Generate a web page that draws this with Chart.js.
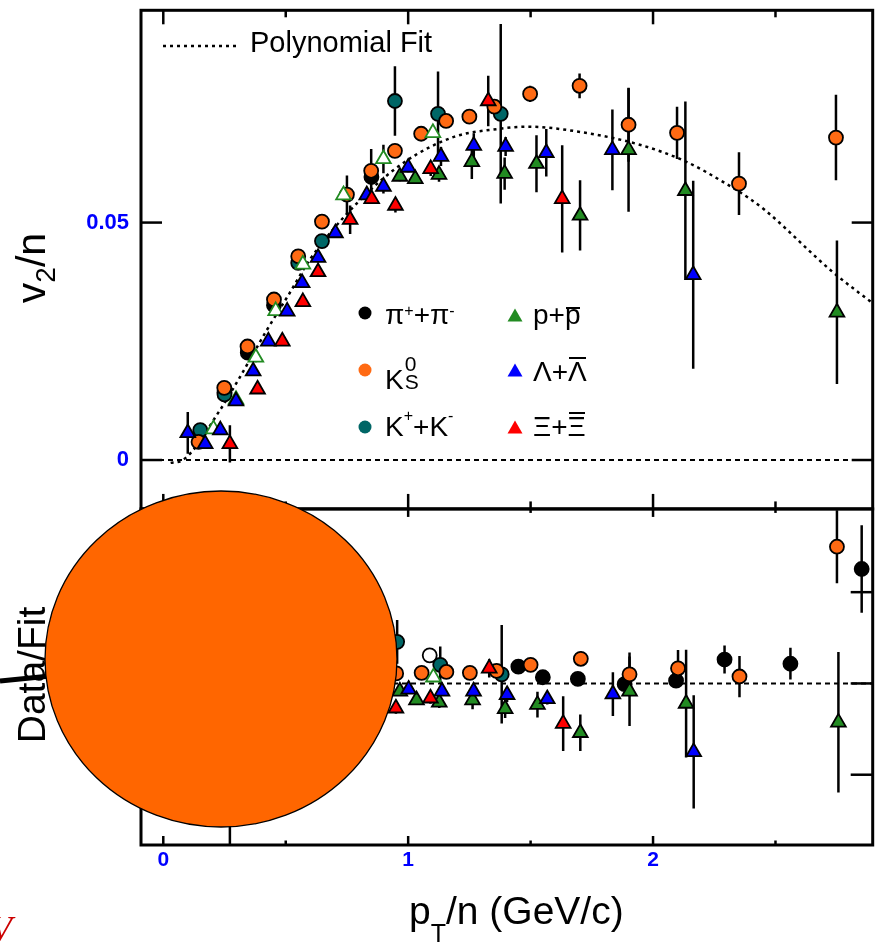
<!DOCTYPE html>
<html lang="en">
<head>
<meta charset="utf-8">
<title>v2/n vs pT/n with polynomial fit</title>
<script src="https://cdn.jsdelivr.net/npm/chart.js@4.4.1/dist/chart.umd.min.js"></script>
<style>
  html, body { margin: 0; padding: 0; background: #fff; }
  #wrap { position: relative; width: 883px; height: 942px; overflow: hidden;
          font-family: "Liberation Sans", Arial, sans-serif; color: #000; }
  #plot, #overlay { position: absolute; left: 0; top: 0; }
  .lbl { position: absolute; white-space: nowrap; line-height: 1; }
  .leg { font-size: 28px; }
  .rot { transform: translate(-50%, -50%) rotate(-90deg); }
  .sup { font-size: 16px; position: relative; }
  .ov { position: relative; }
  .ov::after { content: ""; position: absolute; left: 1px; right: 1px; border-top: 2px solid #000; }
  .ov.low::after { top: 8px; }
  .ov.high::after { top: 1px; }
  .ks { position: relative; display: inline-block; width: 14px; height: 1px; }
  .ks span { position: absolute; left: 1px; font-size: 21px; line-height: 1; }
</style>
</head>
<body>
<div id="wrap">
  <canvas id="plot" width="883" height="942"></canvas>

  <svg id="overlay" width="883" height="942">
    <!-- legend samples -->
    <line x1="163" y1="46" x2="237" y2="46" stroke="#000" stroke-width="2.5" stroke-dasharray="3 4"/>
    <circle cx="365" cy="313" r="6.5" fill="#000"/>
    <circle cx="365" cy="370" r="6.5" fill="#FF6A13"/>
    <circle cx="365" cy="427" r="6.5" fill="#006666"/>
    <polygon points="507.5,321.5 522.5,321.5 515,308.5" fill="#228B22"/>
    <polygon points="507.5,376.5 522.5,376.5 515,363.5" fill="#0000FF"/>
    <polygon points="507.5,433.5 522.5,433.5 515,420.5" fill="#FF0000"/>
    <!-- overlay marks on top of the figure -->
    <line x1="0" y1="681" x2="80" y2="673" stroke="#000" stroke-width="5"/>
    <ellipse cx="221" cy="659" rx="176" ry="168" fill="#FF6600" stroke="#000" stroke-width="1.3"/>
  </svg>

  <div class="lbl" style="left:250px;top:28px;font-size:29px">Polynomial Fit</div>

  <div class="lbl leg" style="left:385px;top:301px">π<span class="sup" style="top:-8px">+</span>+π<span class="sup" style="top:-8px">-</span></div>
  <div class="lbl leg" style="left:385px;top:366px">K<span class="ks"><span style="bottom:15px">0</span><span style="bottom:-3px">S</span></span></div>
  <div class="lbl leg" style="left:385px;top:413px">K<span class="sup" style="top:-15px">+</span>+K<span class="sup" style="top:-15px">-</span></div>
  <div class="lbl leg" style="left:533px;top:301px">p+<span class="ov low">p</span></div>
  <div class="lbl leg" style="left:533px;top:358px">Λ+<span class="ov high">Λ</span></div>
  <div class="lbl leg" style="left:533px;top:413px">Ξ+<span class="ov high">Ξ</span></div>

  <div class="lbl rot" style="left:31px;top:268px;font-size:41px">v<span style="font-size:28px;position:relative;top:10px">2</span>/n</div>
  <div class="lbl rot" style="left:31px;top:675px;font-size:39px">Data/Fit</div>
  <div class="lbl" style="left:409px;top:891px;font-size:39px">p<span style="font-size:25px;position:relative;top:18px">T</span>/n (GeV/c)</div>

  <div class="lbl" style="left:-10px;top:911px;font-size:36px;font-family:'Liberation Serif',serif;font-style:italic;color:#CC0000">V</div>
</div>

<script>
  // ---------- axes ----------
  const xRange = [-0.091, 2.897];
  const v2Range = [-0.0103, 0.0947];
  const ratioRange = [0.115, 1.956];
  const xTickValues = [0, 1, 2];
  const xTickLabels = ['0', '1', '2'];
  const xFrameTicks = [0, 0.5, 1, 1.5, 2, 2.5];
  const v2TickValues = [0, 0.05];
  const v2TickLabels = ['0', '0.05'];
  const ratioTickValues = [0.5, 1, 1.5];

  // ---------- upper panel: v2/n ----------
  const piX = [0.25, 0.345, 0.452, 0.85];
  const piY = [0.0142, 0.0226, 0.0326, 0.0596];
  const piE = [0.001, 0.001, 0.001, 0.001];

  const kchX = [0.151, 0.25, 0.551, 0.648, 0.946, 1.122, 1.378];
  const kchY = [0.0063, 0.0138, 0.0415, 0.0461, 0.0756, 0.0729, 0.0729];
  const kchE = [0.001, 0.001, 0.001, 0.0015, 0.0073, 0.0089, 0.0189];

  const k0X = [0.144, 0.249, 0.344, 0.452, 0.551, 0.648, 0.75, 0.849, 0.946, 1.053, 1.155, 1.25, 1.352, 1.498, 1.70, 1.90, 2.098, 2.351, 2.747];
  const k0Y = [0.0038, 0.0152, 0.0239, 0.0338, 0.0429, 0.0502, 0.0559, 0.0609, 0.0651, 0.0687, 0.0714, 0.0723, 0.0744, 0.0771, 0.0788, 0.0706, 0.0689, 0.0582, 0.0679];
  const k0E = [0.001, 0.001, 0.001, 0.001, 0.001, 0.001, 0.004, 0.0046, 0.001, 0.001, 0.001, 0.001, 0.001, 0.0017, 0.0026, 0.0078, 0.0055, 0.0066, 0.009];

  const pOpenX = [0.205, 0.297, 0.378, 0.459, 0.57, 0.736, 0.899, 1.101];
  const pOpenY = [0.0065, 0.0127, 0.0216, 0.0314, 0.0412, 0.0558, 0.0634, 0.0689];
  const pOpenE = [0.001, 0.001, 0.001, 0.001, 0.001, 0.001, 0.003, 0.001];

  const pX = [0.966, 1.029, 1.126, 1.26, 1.394, 1.524, 1.702, 1.90, 2.132, 2.751];
  const pY = [0.0597, 0.0592, 0.0601, 0.0628, 0.0603, 0.0624, 0.0515, 0.0653, 0.0567, 0.0311];
  const pE = [0.001, 0.001, 0.0015, 0.0036, 0.0034, 0.006, 0.0074, 0.013, 0.0188, 0.0151];

  const lamX = [0.1, 0.171, 0.233, 0.297, 0.367, 0.429, 0.506, 0.567, 0.632, 0.703, 0.831, 0.899, 1.0, 1.134, 1.268, 1.398, 1.564, 1.834, 2.164];
  const lamY = [0.0057, 0.0034, 0.0063, 0.0124, 0.0187, 0.025, 0.0313, 0.0373, 0.0426, 0.0478, 0.0558, 0.0576, 0.0616, 0.0639, 0.0662, 0.066, 0.0647, 0.0653, 0.039];
  const lamE = [0.0044, 0.001, 0.001, 0.001, 0.001, 0.001, 0.001, 0.001, 0.001, 0.001, 0.001, 0.0015, 0.001, 0.002, 0.0026, 0.002, 0.005, 0.0085, 0.0198];

  const xiX = [0.272, 0.385, 0.486, 0.57, 0.632, 0.763, 0.851, 0.948, 1.092, 1.327, 1.629];
  const xiY = [0.0034, 0.0149, 0.025, 0.0333, 0.0396, 0.0506, 0.055, 0.0536, 0.0613, 0.0756, 0.055];
  const xiE = [0.0039, 0.001, 0.001, 0.001, 0.001, 0.003, 0.001, 0.0015, 0.0015, 0.0053, 0.0113];

  const fitX = [0.03, 0.08, 0.229, 0.31, 0.42, 0.513, 0.601, 0.797, 0.987, 1.19, 1.365, 1.487, 1.676, 1.945, 2.136, 2.298, 2.39, 2.46, 2.731, 2.897];
  const fitY = [-0.0006, 0.0, 0.0103, 0.0172, 0.0271, 0.0349, 0.0424, 0.0544, 0.0628, 0.0681, 0.0697, 0.0702, 0.0693, 0.0664, 0.0628, 0.0582, 0.0552, 0.0525, 0.0397, 0.033];

  // ---------- lower panel: data / fit ----------
  const piRX = [1.45, 1.55, 1.693, 1.884, 2.094, 2.292, 2.561, 2.852];
  const piRY = [1.092, 1.034, 1.025, 0.996, 1.015, 1.131, 1.108, 1.627];
  const piRE = [0.02, 0.02, 0.02, 0.02, 0.03, 0.077, 0.087, 0.24];

  const piOpenRX = [1.088];
  const piOpenRY = [1.154];
  const piOpenRE = [0.03];

  const kchRX = [0.955, 1.131, 1.382];
  const kchRY = [1.228, 1.102, 1.05];
  const kchRE = [0.12, 0.1, 0.27];

  const k0RX = [0.951, 1.055, 1.156, 1.252, 1.361, 1.5, 1.705, 1.904, 2.102, 2.353, 2.751];
  const k0RY = [1.055, 1.058, 1.063, 1.058, 1.069, 1.102, 1.135, 1.05, 1.083, 1.038, 1.749];
  const k0RE = [0.02, 0.02, 0.02, 0.02, 0.02, 0.03, 0.04, 0.12, 0.1, 0.113, 0.2];

  const pOpenRX = [1.103];
  const pOpenRY = [1.034];
  const pOpenRE = [0.02];

  const pRX = [0.966, 1.034, 1.127, 1.263, 1.396, 1.528, 1.703, 1.904, 2.135, 2.757];
  const pRY = [0.957, 0.909, 0.896, 0.909, 0.861, 0.884, 0.73, 0.957, 0.89, 0.787];
  const pRE = [0.02, 0.02, 0.03, 0.05, 0.05, 0.07, 0.1, 0.19, 0.295, 0.385];

  const lamRX = [1.002, 1.138, 1.267, 1.404, 1.568, 1.836, 2.166];
  const lamRY = [0.967, 0.957, 0.957, 0.938, 0.915, 0.942, 0.625];
  const lamRE = [0.02, 0.02, 0.02, 0.04, 0.03, 0.12, 0.31];

  const xiRX = [0.272, 0.95, 1.091, 1.331, 1.633];
  const xiRY = [0.6, 0.864, 0.919, 1.083, 0.78];
  const xiRE = [0.6, 0.03, 0.03, 0.05, 0.15];

  // reference lines
  const zeroLineY = 0;
  const unityLineY = 1;

  // ---------- colours ----------
  const COL = {
    pi: '#000000',
    k0: '#FF6A13',
    kch: '#006666',
    p: '#228B22',
    lam: '#0000FF',
    xi: '#FF0000'
  };

  const pts = (xs, ys) => xs.map((x, i) => ({ x, y: ys[i] }));

  const markers = (xs, ys, errs, axis, shape, fill, stroke) => ({
    data: pts(xs, ys),
    errors: errs,
    yAxisID: axis,
    pointStyle: shape,
    pointRadius: shape === 'triangle' ? 8.5 : 7,
    pointBackgroundColor: fill,
    pointBorderColor: stroke || '#000',
    pointBorderWidth: 1.8,
    showLine: false
  });

  const refLine = (y, axis, dash) => ({
    data: pts(xRange, [y, y]),
    yAxisID: axis,
    showLine: true,
    borderColor: '#000',
    borderWidth: 2,
    borderDash: dash,
    pointRadius: 0
  });

  // first dataset is drawn on top
  const datasets = [
    markers(xiX, xiY, xiE, 'yV', 'triangle', COL.xi),
    markers(lamX, lamY, lamE, 'yV', 'triangle', COL.lam),
    markers(pX, pY, pE, 'yV', 'triangle', COL.p),
    markers(pOpenX, pOpenY, pOpenE, 'yV', 'triangle', '#fff', COL.p),
    markers(k0X, k0Y, k0E, 'yV', 'circle', COL.k0),
    markers(kchX, kchY, kchE, 'yV', 'circle', COL.kch),
    markers(piX, piY, piE, 'yV', 'circle', COL.pi),

    markers(xiRX, xiRY, xiRE, 'yR', 'triangle', COL.xi),
    markers(lamRX, lamRY, lamRE, 'yR', 'triangle', COL.lam),
    markers(pRX, pRY, pRE, 'yR', 'triangle', COL.p),
    markers(pOpenRX, pOpenRY, pOpenRE, 'yR', 'triangle', '#fff', COL.p),
    markers(k0RX, k0RY, k0RE, 'yR', 'circle', COL.k0),
    markers(kchRX, kchRY, kchRE, 'yR', 'circle', COL.kch),
    markers(piRX, piRY, piRE, 'yR', 'circle', COL.pi),
    markers(piOpenRX, piOpenRY, piOpenRE, 'yR', 'circle', '#fff'),

    {
      data: pts(fitX, fitY),
      yAxisID: 'yV',
      showLine: true,
      borderColor: '#000',
      borderWidth: 2.5,
      borderDash: [3, 4],
      cubicInterpolationMode: 'monotone',
      pointRadius: 0
    },
    refLine(zeroLineY, 'yV', [5, 4]),
    refLine(unityLineY, 'yR', [5, 4])
  ];

  // error bars under the markers, frames and inward ticks on top
  const framePlugin = {
    id: 'framePlugin',
    beforeDatasetsDraw(chart) {
      const { ctx, chartArea } = chart;
      const xs = chart.scales.x;
      chart.data.datasets.forEach((ds) => {
        if (!ds.errors) return;
        const ys = chart.scales[ds.yAxisID];
        ctx.save();
        ctx.beginPath();
        ctx.rect(chartArea.left, ys.top, chartArea.right - chartArea.left, ys.bottom - ys.top);
        ctx.clip();
        ctx.strokeStyle = '#000';
        ctx.lineWidth = 2.5;
        ds.data.forEach((p, i) => {
          const e = ds.errors[i];
          const px = xs.getPixelForValue(p.x);
          ctx.beginPath();
          ctx.moveTo(px, ys.getPixelForValue(p.y - e));
          ctx.lineTo(px, ys.getPixelForValue(p.y + e));
          ctx.stroke();
        });
        ctx.restore();
      });
    },
    afterDatasetsDraw(chart) {
      const { ctx } = chart;
      const xs = chart.scales.x;
      const seg = (x1, y1, x2, y2) => {
        ctx.beginPath(); ctx.moveTo(x1, y1); ctx.lineTo(x2, y2); ctx.stroke();
      };
      const panel = (ys, yTicks, len) => {
        const l = xs.left, r = xs.right, t = ys.top, b = ys.bottom;
        ctx.lineWidth = 3;
        ctx.strokeRect(l, t, r - l, b - t);
        ctx.lineWidth = 2.5;
        xFrameTicks.forEach((v) => {
          const px = xs.getPixelForValue(v);
          const major = xTickValues.includes(v);
          seg(px, t, px, t + (major ? len.top : len.top / 2));
          seg(px, b, px, b - (major ? len.bottom : len.bottom / 2));
        });
        yTicks.forEach((v) => {
          const py = ys.getPixelForValue(v);
          seg(l, py, l + len.y, py);
          seg(r, py, r - len.y, py);
        });
      };
      ctx.save();
      ctx.strokeStyle = '#000';
      panel(chart.scales.yV, v2TickValues, { top: 14, bottom: 15, y: 21 });
      panel(chart.scales.yR, ratioTickValues, { top: 8, bottom: 9, y: 22 });
      ctx.restore();
    }
  };

  const tickFont = { family: 'Liberation Sans', size: 22, weight: 'bold' };

  // fixed gutters so the plotting frame sits exactly where the figure has it
  const fixWidth = (s) => { s.width = 141; s.paddingTop = 0; s.paddingBottom = 0; };
  const fixHeight = (s) => { s.height = 97; s.paddingLeft = 0; s.paddingRight = 0; };

  new Chart(document.getElementById('plot'), {
    type: 'scatter',
    data: { datasets },
    plugins: [framePlugin],
    options: {
      responsive: false,
      animation: false,
      events: [],
      layout: { padding: { top: 8, right: 0, left: 0, bottom: 0 } },
      plugins: { legend: { display: false }, tooltip: { enabled: false } },
      scales: {
        x: {
          type: 'linear',
          min: xRange[0],
          max: xRange[1],
          grid: { display: false, drawTicks: false },
          border: { display: false },
          afterBuildTicks: (s) => { s.ticks = xTickValues.map((value) => ({ value })); },
          afterFit: fixHeight,
          ticks: {
            color: '#0000FF',
            font: { family: 'Liberation Sans', size: 21, weight: 'bold' },
            padding: 3,
            maxRotation: 0,
            callback: (v) => xTickLabels[xTickValues.indexOf(v)]
          }
        },
        // lower panel (defined first so it stacks below)
        yR: {
          type: 'linear',
          position: 'left',
          stack: 'panels',
          stackWeight: 337,
          min: ratioRange[0],
          max: ratioRange[1],
          grid: { display: false, drawTicks: false },
          border: { display: false },
          afterBuildTicks: (s) => { s.ticks = ratioTickValues.map((value) => ({ value })); },
          afterFit: fixWidth,
          ticks: { display: false }
        },
        // upper panel
        yV: {
          type: 'linear',
          position: 'left',
          stack: 'panels',
          stackWeight: 500,
          min: v2Range[0],
          max: v2Range[1],
          grid: { display: false, drawTicks: false },
          border: { display: false },
          afterBuildTicks: (s) => { s.ticks = v2TickValues.map((value) => ({ value })); },
          afterFit: fixWidth,
          ticks: {
            color: '#0000FF',
            font: tickFont,
            padding: 12,
            callback: (v) => v2TickLabels[v2TickValues.indexOf(v)]
          }
        }
      }
    }
  });
</script>
</body>
</html>
